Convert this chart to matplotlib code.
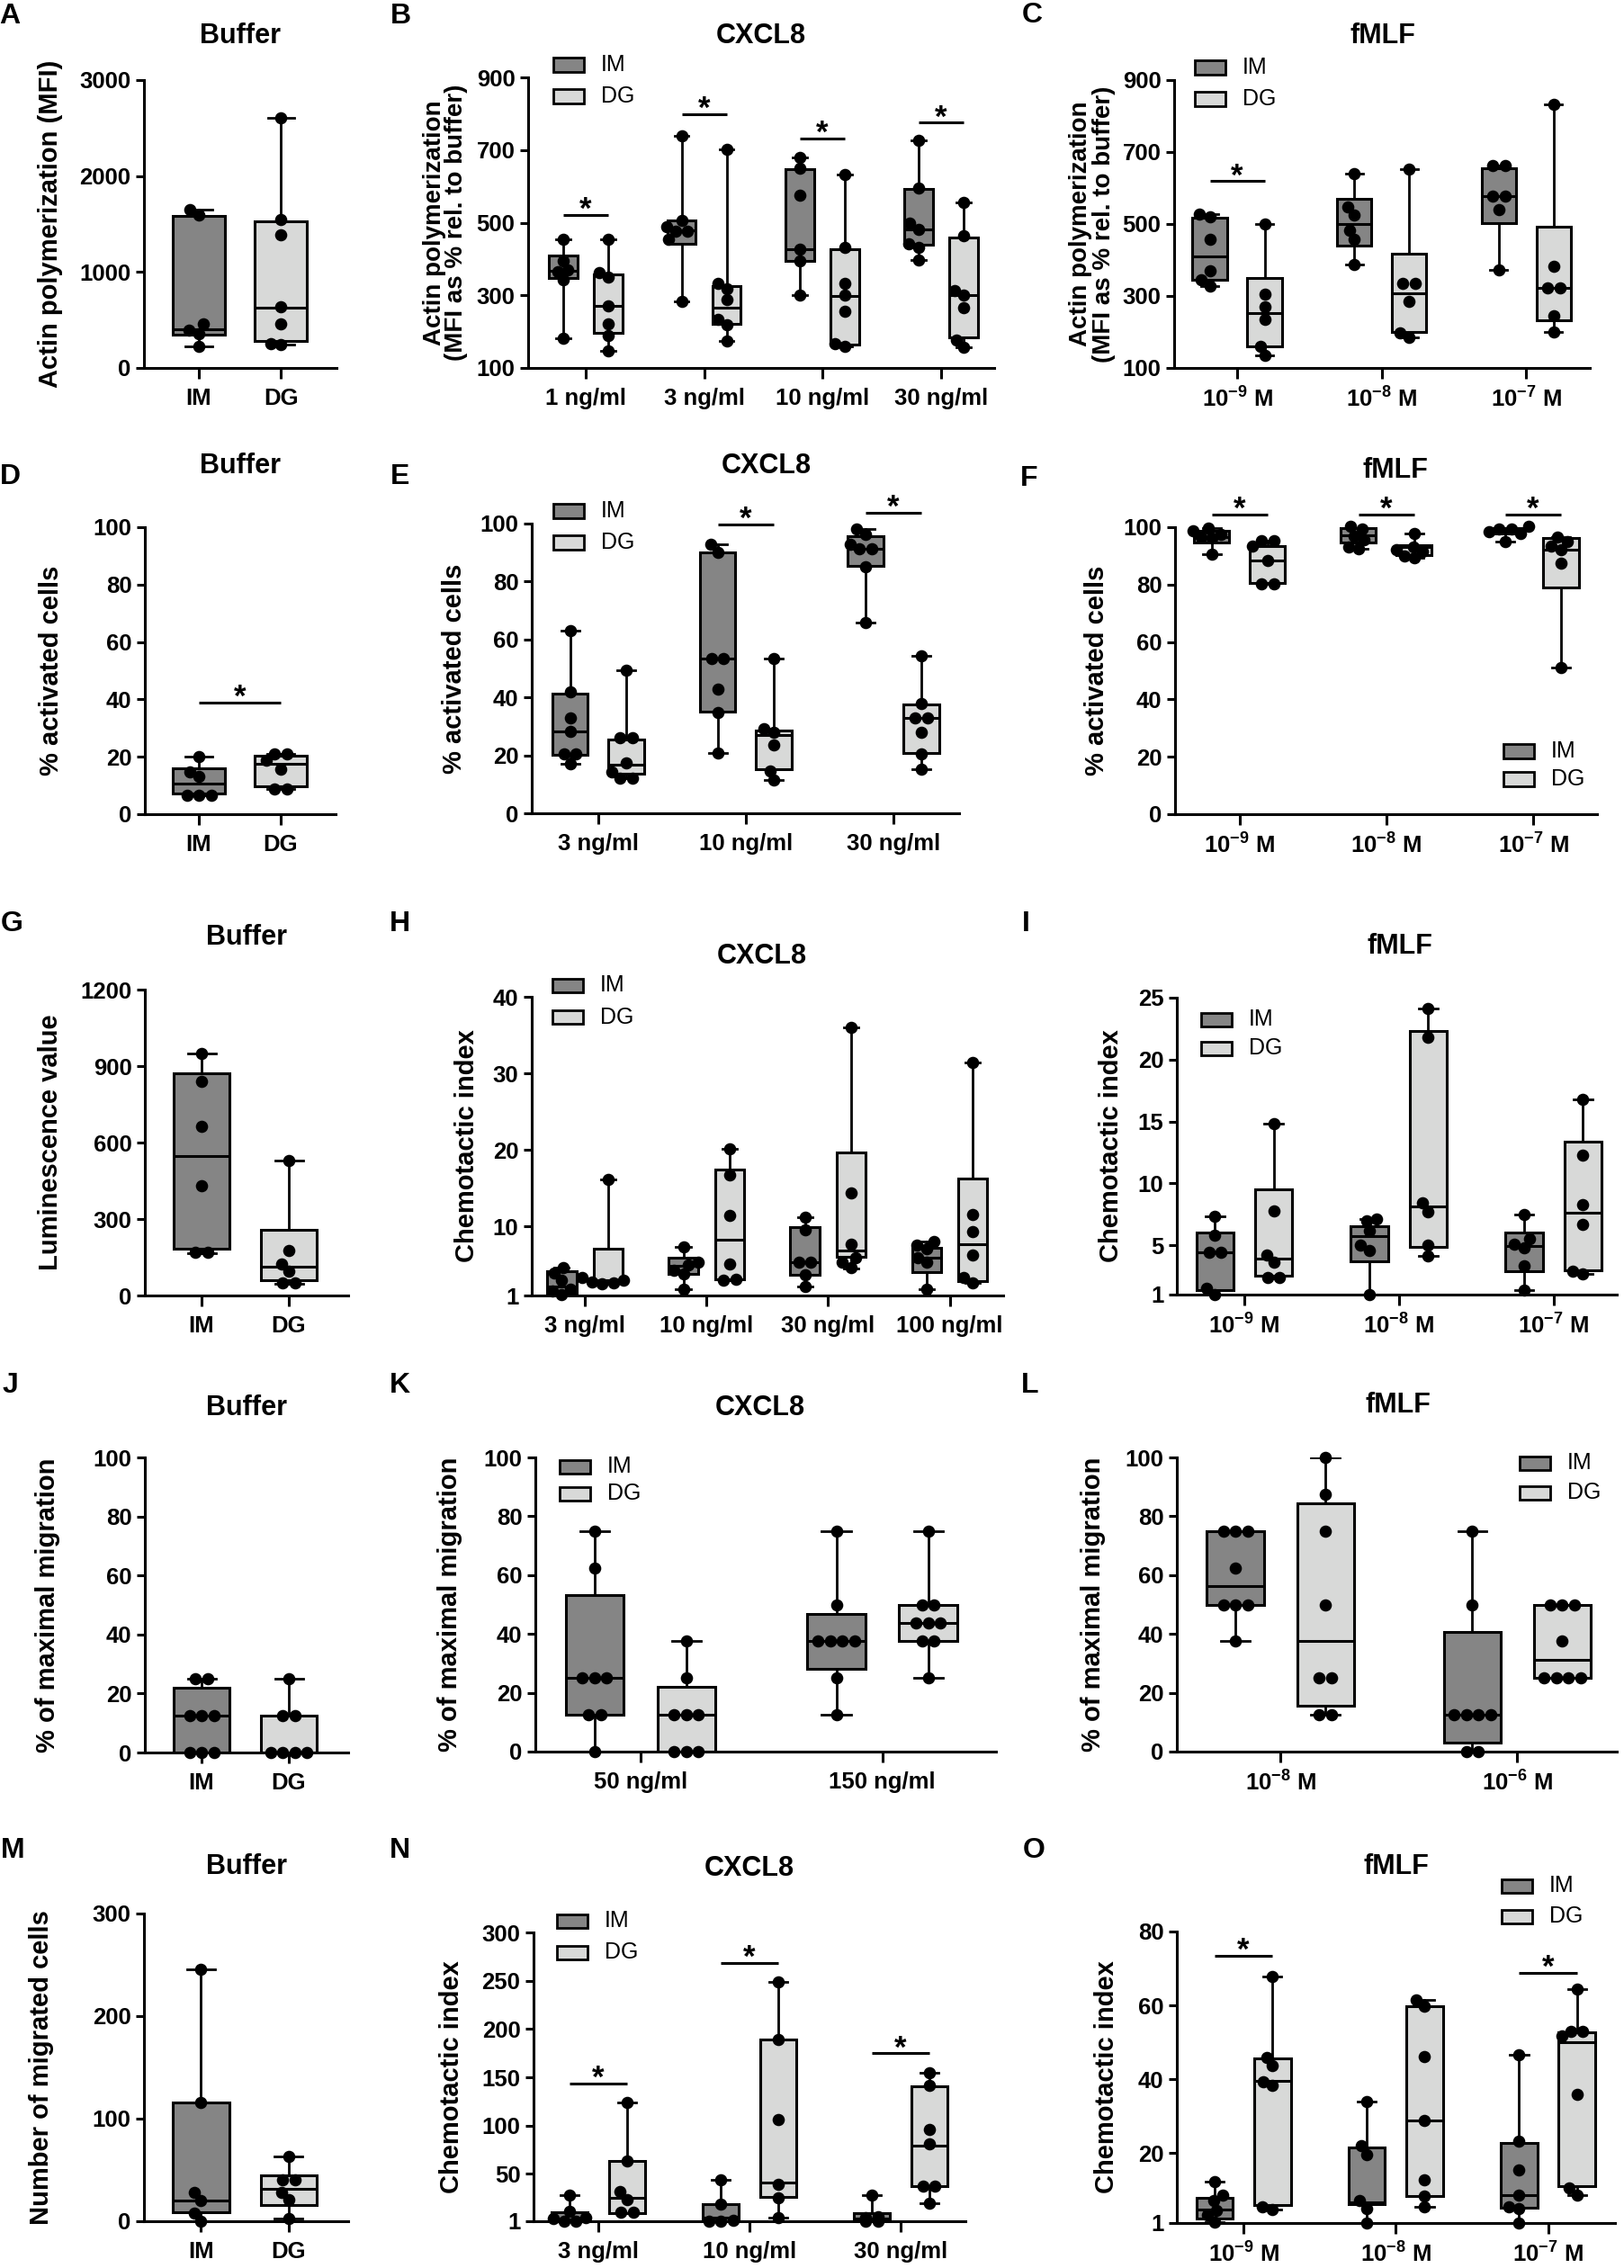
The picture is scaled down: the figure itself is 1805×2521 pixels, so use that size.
#!/usr/bin/env python3
"""Box plots (min-max whiskers) of IM vs DG neutrophil responses, panels A-O."""

import matplotlib

matplotlib.use("Agg")
import matplotlib.pyplot as plt
from matplotlib.patches import Rectangle
import numpy as np

plt.rcParams.update({
    "font.family": ["Liberation Sans", "DejaVu Sans"],
    "font.weight": "bold",
    "mathtext.fontset": "custom",
    "mathtext.rm": "Liberation Sans",
    "mathtext.bf": "Liberation Sans:bold",
    "mathtext.it": "Liberation Sans:italic",
    "axes.linewidth": 2.2,
})

W, H = 1805, 2521
IM_COLOR = "#858585"
DG_COLOR = "#d8d9d8"

# ---------------------------------------------------------------- data
# box arrays: [min, q1, median, q3, max]
SINGLE_CATS = ["IM", "DG"]
CXCL8_CATS_3 = ["3 ng/ml", "10 ng/ml", "30 ng/ml"]
FMLF_CATS = [r"$\mathbf{10^{-9}}$ M", r"$\mathbf{10^{-8}}$ M", r"$\mathbf{10^{-7}}$ M"]

# A - actin polymerization, buffer
A_IM_PTS = [1650, 1594, 456, 390, 360, 228]
A_IM_BOX = [228, 347, 400, 1588, 1650]
A_DG_PTS = [2609, 1547, 1384, 640, 462, 255, 240]
A_DG_BOX = [240, 281, 628, 1531, 2609]

# B - actin polymerization, CXCL8
B_CATS = ["1 ng/ml", "3 ng/ml", "10 ng/ml", "30 ng/ml"]
B_IM_PTS = [[453, 395, 370, 366, 342, 182], [740, 505, 490, 476, 476, 455, 284],
            [680, 650, 575, 428, 395, 300], [727, 595, 498, 482, 443, 432, 397]]
B_IM_BOX = [[182, 347, 368, 410, 453], [284, 443, 478, 507, 740],
            [300, 395, 428, 647, 680], [397, 440, 482, 592, 727]]
B_DG_PTS = [[453, 362, 350, 272, 222, 189, 148], [703, 332, 317, 288, 234, 218, 174],
            [632, 432, 333, 300, 255, 168, 160], [556, 465, 313, 300, 267, 177, 156]]
B_DG_BOX = [[148, 197, 272, 358, 453], [174, 222, 267, 325, 703],
            [160, 164, 298, 428, 632], [156, 185, 300, 460, 556]]
B_SIG = [521, 798, 732, 775]

# C - actin polymerization, fMLF
C_IM_PTS = [[527, 519, 457, 369, 344, 328], [640, 548, 525, 483, 457, 388],
            [663, 663, 578, 578, 540, 373]]
C_IM_BOX = [[328, 344, 411, 517, 527], [388, 440, 500, 569, 640], [373, 502, 578, 655, 663]]
C_DG_PTS = [[500, 305, 270, 236, 160, 134], [653, 336, 336, 286, 198, 186],
            [833, 383, 323, 323, 245, 200]]
C_DG_BOX = [[134, 159, 253, 350, 500], [186, 200, 308, 417, 653], [200, 233, 323, 492, 833]]
C_SIG = [619, None, None]

# D - activated cells, buffer
D_IM_PTS = [20.2, 14.6, 13.1, 6.6, 6.6, 6.6]
D_IM_BOX = [6.6, 7.3, 10.8, 15.9, 20.2]
D_DG_PTS = [20.9, 20.9, 18.8, 15.7, 8.9, 8.9]
D_DG_BOX = [8.9, 9.7, 17.5, 20.4, 20.9]
D_SIG = [39.0]

# E - activated cells, CXCL8
E_IM_PTS = [[63.0, 41.8, 32.8, 28.4, 20.4, 20.4, 17.0], [92.8, 90.2, 53.5, 53.5, 42.8, 34.8, 20.7],
            [98.2, 96.4, 93.0, 91.2, 91.2, 85.0, 65.7]]
E_IM_BOX = [[17.0, 20.1, 28.4, 41.3, 63.0], [20.7, 35.2, 53.5, 90.2, 92.8],
            [65.7, 85.5, 91.2, 95.7, 98.2]]
E_DG_PTS = [[49.3, 26.1, 26.1, 17.3, 14.2, 12.1, 12.1], [53.5, 29.2, 28.1, 23.5, 14.7, 11.4],
            [54.5, 38.0, 32.8, 32.8, 28.1, 20.4, 15.2]]
E_DG_BOX = [[12.1, 13.7, 16.8, 25.5, 49.3], [11.4, 15.2, 27.0, 28.5, 53.5],
            [15.2, 20.7, 32.8, 37.6, 54.5]]
E_SIG = [None, 99.7, 103.8]

# F - activated cells, fMLF
F_IM_PTS = [[99.6, 98.7, 97.6, 96.7, 96.2, 90.6], [100.3, 99.3, 96.9, 95.6, 93.0, 92.5],
            [100.3, 99.5, 99.3, 98.5, 97.9, 95.1]]
F_IM_BOX = [[90.6, 94.6, 96.7, 98.7, 99.6], [92.5, 94.6, 97.2, 99.6, 100.3],
            [95.1, 97.7, 98.7, 99.6, 100.3]]
F_DG_PTS = [[95.2, 95.2, 93.5, 88.5, 80.3, 80.3], [97.9, 93.0, 92.3, 91.4, 89.9, 89.3],
            [96.4, 95.1, 93.5, 92.2, 87.6, 51.2]]
F_DG_BOX = [[80.1, 80.5, 88.5, 93.5, 95.4], [89.3, 90.2, 93.0, 93.7, 97.9],
            [51.2, 78.9, 92.2, 96.1, 96.4]]
F_SIG = [104.5, 104.5, 104.5]

# G - luminescence, buffer
G_IM_PTS = [951, 841, 665, 429, 171, 171]
G_IM_BOX = [167, 182, 547, 873, 951]
G_DG_PTS = [529, 176, 124, 94, 50, 50]
G_DG_BOX = [47, 59, 112, 259, 529]

# H - chemotactic index, CXCL8
H_CATS = ["3 ng/ml", "10 ng/ml", "30 ng/ml", "100 ng/ml"]
H_IM_PTS = [[4.6, 3.9, 3.0, 1.8, 1.6, 1.1], [7.3, 5.3, 5.0, 4.3, 3.8, 1.8],
            [11.2, 9.6, 5.4, 5.3, 3.7, 2.2], [8.0, 7.6, 7.1, 5.9, 5.3, 1.8]]
H_IM_BOX = [[1.1, 1.3, 2.2, 4.2, 4.6], [1.8, 3.8, 4.9, 5.9, 7.3],
            [2.2, 3.7, 5.4, 9.9, 11.2], [1.8, 4.1, 5.9, 7.2, 8.0]]
H_DG_PTS = [[16.1, 3.3, 3.0, 2.8, 2.6, 2.5], [20.2, 16.7, 11.4, 5.1, 3.1, 3.0],
            [36.0, 14.4, 7.7, 5.9, 5.3, 4.7], [31.4, 11.6, 9.3, 6.3, 3.4, 2.7]]
H_DG_BOX = [[2.5, 2.9, 3.0, 7.1, 16.1], [3.0, 3.1, 8.3, 17.5, 20.2],
            [4.5, 6.0, 6.9, 19.7, 36.0], [2.6, 2.9, 7.7, 16.3, 31.4]]

# I - chemotactic index, fMLF
I_IM_PTS = [[7.3, 5.8, 4.4, 4.4, 1.5, 1.0], [7.1, 7.0, 6.2, 5.0, 4.6, 1.0],
            [7.5, 5.5, 5.1, 4.8, 3.3, 1.4]]
I_IM_BOX = [[1.0, 1.4, 4.4, 6.0, 7.3], [1.0, 3.7, 5.7, 6.5, 7.1], [1.4, 2.9, 4.9, 6.0, 7.5]]
I_DG_PTS = [[14.8, 7.8, 4.2, 3.6, 2.4, 2.4], [24.1, 21.8, 8.4, 7.7, 5.0, 4.1],
            [16.8, 12.3, 8.3, 6.7, 2.9, 2.7]]
I_DG_BOX = [[2.3, 2.5, 3.9, 9.5, 14.8], [4.1, 4.85, 8.1, 22.3, 24.1], [2.7, 3.0, 7.6, 13.4, 16.8]]

# J - maximal migration, buffer
J_IM_PTS = [25, 25, 12.5, 12.5, 12.5, 0, 0, 0]
J_IM_BOX = [0, 0, 12.5, 21.9, 25]
J_DG_PTS = [25, 12.5, 12.5, 0, 0, 0, 0]
J_DG_BOX = [0, 0, 0, 12.5, 25]

# K - maximal migration, CXCL8
K_CATS = ["50 ng/ml", "150 ng/ml"]
K_IM_PTS = [[75, 62.5, 25, 25, 25, 12.5, 12.5, 0], [75, 50, 37.5, 37.5, 37.5, 37.5, 25, 12.5]]
K_IM_BOX = [[0, 12.5, 25, 53.1, 75], [12.5, 28.1, 37.5, 46.9, 75]]
K_DG_PTS = [[37.5, 25, 12.5, 12.5, 12.5, 0, 0, 0], [75, 50, 50, 43.75, 43.75, 43.75, 37.5, 37.5, 25]]
K_DG_BOX = [[0, 0, 12.5, 21.9, 37.5], [25, 37.5, 43.75, 50, 75]]

# L - maximal migration, fMLF
L_CATS = [r"$\mathbf{10^{-8}}$ M", r"$\mathbf{10^{-6}}$ M"]
L_IM_PTS = [[75, 75, 75, 62.5, 50, 50, 50, 37.5], [75, 50, 12.5, 12.5, 12.5, 12.5, 0, 0]]
L_IM_BOX = [[37.5, 50, 56.25, 75, 75], [0, 3.1, 12.5, 40.6, 75]]
L_DG_PTS = [[100, 87.5, 75, 50, 25, 25, 12.5, 12.5], [50, 50, 50, 37.5, 25, 25, 25, 25]]
L_DG_BOX = [[12.5, 15.6, 37.5, 84.4, 100], [25, 25, 31.25, 50, 50]]

# M - migrated cells, buffer
M_IM_PTS = [246, 116, 28, 20, 8, 0]
M_IM_BOX = [0, 8.8, 20.5, 116, 246]
M_DG_PTS = [63, 40, 40, 28, 21, 3]
M_DG_BOX = [3, 15.5, 31.6, 44.7, 63]

# N - chemotactic index, CXCL8
N_IM_PTS = [[28.3, 11.2, 5.0, 3.5, 1, 1], [43.8, 18.3, 1.9, 1, 1], [28.3, 5.6, 5.0, 1, 1]]
N_IM_BOX = [[1, 1.9, 2.9, 10.3, 28.3], [1, 1, 4.9, 18.3, 43.8], [1, 1, 3.5, 9.7, 28.3]]
N_DG_PTS = [[124, 63.7, 31.4, 23.7, 10.6, 9.9], [249, 189, 106, 39.1, 25.2, 5.0],
            [155, 141.8, 96.2, 81.2, 37.0, 37.0, 19.6]]
N_DG_BOX = [[9.1, 9.1, 25.2, 63.1, 124], [5.0, 25.8, 40.6, 189, 249], [19.6, 37.0, 79.5, 141, 155]]
N_SIG = [143.8, 268.3, 174.9]

# O - chemotactic index, fMLF
O_IM_PTS = [[12.3, 8.5, 7.0, 4.3, 3.2, 1.3], [34.0, 22.0, 19.6, 7.0, 5.0, 1.0],
            [46.7, 23.1, 15.4, 8.6, 5.3, 4.9, 1.0]]
O_IM_BOX = [[1.3, 2.3, 4.6, 7.8, 12.3], [1.0, 6.2, 6.6, 21.6, 34.0], [1.0, 5.2, 8.6, 22.8, 46.7]]
O_DG_PTS = [[67.7, 45.9, 43.6, 39.3, 38.3, 5.5, 4.6], [61.5, 59.8, 46.2, 28.8, 12.8, 8.2, 5.3],
            [64.5, 52.9, 52.9, 51.7, 35.9, 10.4, 8.5]]
O_DG_BOX = [[4.6, 5.8, 39.5, 45.6, 67.7], [5.3, 8.2, 28.8, 59.8, 61.5], [8.5, 10.9, 49.9, 52.7, 64.5]]
O_SIG = [73.5, None, 68.9]

ACTIN_LAB = "Actin polymerization\n(MFI as % rel. to buffer)"
CI_LAB = "Chemotactic index"

# ---------------------------------------------------------------- layout (pixels)
# ax = (left, top, right, bottom); title/letter = (x, y) centres; legend = (x, y_IM, y_DG)
LAYOUT = {
    "A": dict(ax=(160, 89, 374, 409), xlim=(-0.67, 1.68), title=(267, 40), letter=(11, 18), ylab=56),
    "B": dict(ax=(587, 86, 1105, 409), xlim=(-0.486, 3.45), title=(846, 40), letter=(445, 18), ylab=495,
              legend=(615, 72, 107)),
    "C": dict(ax=(1305, 89, 1767, 409), xlim=(-0.436, 2.44), title=(1537, 40), letter=(1147, 17), ylab=1214,
              legend=(1328, 75, 110)),
    "D": dict(ax=(161, 586, 373, 905), xlim=(-0.66, 1.67), title=(267, 518), letter=(11, 530), ylab=57),
    "E": dict(ax=(591, 582, 1066, 904), xlim=(-0.45, 2.445), title=(852, 518), letter=(445, 530), ylab=505,
              legend=(615, 568, 603)),
    "F": dict(ax=(1306, 586, 1775, 905), xlim=(-0.44, 2.435), title=(1551, 523), letter=(1144, 532), ylab=1219,
              legend=(1671, 835, 866)),
    "G": dict(ax=(161, 1100, 387, 1440), xlim=(-0.65, 1.68), title=(274, 1042), letter=(13, 1027), ylab=56),
    "H": dict(ax=(591, 1108, 1115, 1440), xlim=(-0.437, 3.44), title=(847, 1063), letter=(444, 1027), ylab=519,
              legend=(614, 1095, 1131)),
    "I": dict(ax=(1308, 1109, 1797, 1439), xlim=(-0.436, 2.41), title=(1556, 1052), letter=(1140, 1027), ylab=1235,
              legend=(1335, 1133, 1165)),
    "J": dict(ax=(161, 1620, 387, 1948), xlim=(-0.65, 1.68), title=(274, 1565), letter=(11, 1540), ylab=53),
    "K": dict(ax=(595, 1620, 1107, 1947), xlim=(-0.435, 1.47), title=(845, 1565), letter=(444, 1540), ylab=500,
              legend=(622, 1630, 1660)),
    "L": dict(ax=(1308, 1620, 1797, 1947), xlim=(-0.437, 1.42), title=(1554, 1562), letter=(1145, 1540), ylab=1215,
              legend=(1689, 1626, 1659)),
    "M": dict(ax=(160, 2127, 387, 2469), xlim=(-0.65, 1.68), title=(274, 2075), letter=(14, 2057), ylab=46),
    "N": dict(ax=(593, 2148, 1073, 2469), xlim=(-0.43, 2.43), title=(833, 2077), letter=(444, 2057), ylab=502,
              legend=(619, 2135, 2170)),
    "O": dict(ax=(1308, 2147, 1795, 2471), xlim=(-0.438, 2.44), title=(1552, 2075), letter=(1149, 2057), ylab=1230,
              legend=(1669, 2096, 2130)),
}

SINGLE_W = 0.64
GROUP_OFF = 0.19
GROUP_W = 0.24
MARKER_PX = 13.5
TICK_FS = 18.5


def _swarm(vals, y_px_per_unit, x_px_per_unit):
    """Beeswarm-like x offsets: tied values sit in a centred row, others nudge aside."""
    vals = np.asarray(vals, float)
    ys = vals * y_px_per_unit
    order = np.argsort(vals)
    d = MARKER_PX
    dc = MARKER_PX * 0.85  # allow a little overlap, as in the original
    xs = np.zeros(len(vals))

    rows, cur = [], [order[0]]
    for k in range(1, len(order)):
        if ys[order[k]] - ys[order[k - 1]] < 0.1 * d:
            cur.append(order[k])
        else:
            rows.append(cur)
            cur = [order[k]]
    rows.append(cur)

    placed = []
    singles = []
    for r in rows:
        if len(r) > 1:
            for j, idx in enumerate(r):
                xs[idx] = (j - (len(r) - 1) / 2) * d
                placed.append((xs[idx], ys[idx]))
        else:
            singles.append(r[0])

    for idx in singles:
        y = ys[idx]
        near = [(px, py) for px, py in placed if abs(py - y) < dc]
        cands = [0.0]
        for px, py in near:
            dx = np.sqrt(dc * dc - (py - y) ** 2)
            cands += [px - dx, px + dx]
        cands.sort(key=abs)
        best = cands[-1]
        for c in cands:
            if all((c - px) ** 2 + (y - py) ** 2 >= dc * dc - 1e-6 for px, py in near):
                best = c
                break
        xs[idx] = best
        placed.append((best, y))
    return xs / x_px_per_unit


def _boxes(ax, positions, boxes, pts, color, width, ypu, xpu):
    stats = [dict(whislo=b[0], q1=b[1], med=b[2], q3=b[3], whishi=b[4]) for b in boxes]
    ax.bxp(stats, positions=positions, widths=width, patch_artist=True, showfliers=False,
           manage_ticks=False, capwidths=width * 0.5,
           boxprops=dict(facecolor=color, edgecolor="black", linewidth=2.2),
           medianprops=dict(color="black", linewidth=2.2),
           whiskerprops=dict(color="black", linewidth=2.0),
           capprops=dict(color="black", linewidth=2.0))
    for p, vals in zip(positions, pts):
        offs = _swarm(vals, ypu, xpu)
        ax.scatter(p + offs, vals, s=96, color="black", zorder=5, clip_on=False, linewidths=0)


def _px(x, y):
    return x / W, 1 - y / H


def _legend(fig, x, y_im, y_dg):
    for yc, col, lab in ((y_im, IM_COLOR, "IM"), (y_dg, DG_COLOR, "DG")):
        x0, y0 = _px(x, yc + 7.5)
        fig.add_artist(Rectangle((x0, y0), 34 / W, 15 / H, transform=fig.transFigure,
                                 facecolor=col, edgecolor="black", linewidth=2.0))
        tx, ty = _px(x + 53, yc)
        fig.text(tx, ty, lab, ha="left", va="center", fontsize=18, fontweight="normal")


def draw_panel(fig, key, title, ylabel, ylim, yticks, cats, im_pts, im_box, dg_pts, dg_box,
               sig=None, single=False):
    g = LAYOUT[key]
    left, top, right, bottom = g["ax"]
    ax = fig.add_axes([left / W, 1 - bottom / H, (right - left) / W, (bottom - top) / H])
    ax.set_xlim(*g["xlim"])
    ax.set_ylim(*ylim)
    xpu = (right - left) / (g["xlim"][1] - g["xlim"][0])
    ypu = (bottom - top) / (ylim[1] - ylim[0])

    if single:
        pos_im, pos_dg = [0.0], [1.0]
        im_pts, im_box, dg_pts, dg_box = [im_pts], [im_box], [dg_pts], [dg_box]
        width = SINGLE_W
        ticks = [0, 1]
    else:
        n = len(cats)
        pos_im = [i - GROUP_OFF for i in range(n)]
        pos_dg = [i + GROUP_OFF for i in range(n)]
        width = GROUP_W
        ticks = list(range(n))

    _boxes(ax, pos_im, im_box, im_pts, IM_COLOR, width, ypu, xpu)
    _boxes(ax, pos_dg, dg_box, dg_pts, DG_COLOR, width, ypu, xpu)

    if sig is not None:
        for a, b, y in zip(pos_im, pos_dg, sig):
            if y is None:
                continue
            ax.plot([a, b], [y, y], color="black", lw=2.2, clip_on=False, solid_capstyle="butt")
            ax.annotate("*", xy=((a + b) / 2, y), xytext=(0, -3), textcoords="offset points",
                        ha="center", va="baseline", fontsize=25, fontweight="bold",
                        annotation_clip=False)

    ax.set_xticks(ticks)
    ax.set_xticklabels(cats)
    ax.set_yticks(yticks)
    for s in ("top", "right"):
        ax.spines[s].set_visible(False)
    for s in ("left", "bottom"):
        ax.spines[s].set_linewidth(2.2)
    ax.tick_params(axis="x", length=8.5, width=2.2, pad=7, labelsize=TICK_FS)
    ax.tick_params(axis="y", length=6.5, width=2.2, pad=4, labelsize=TICK_FS)
    for t in ax.get_xticklabels() + ax.get_yticklabels():
        t.set_fontweight("bold")

    tx, ty = _px(*g["title"])
    fig.text(tx, ty, title, ha="center", va="center", fontsize=22, fontweight="bold")
    lx, ly = _px(*g["letter"])
    fig.text(lx, ly, key, ha="center", va="center", fontsize=23, fontweight="bold")
    yx, yy = _px(g["ylab"], (top + bottom) / 2)
    fig.text(yx, yy, ylabel, rotation=90, ha="center", va="center", linespacing=0.95,
             fontsize=20 if "\n" in ylabel else 21, fontweight="bold")
    if "legend" in g:
        _legend(fig, *g["legend"])
    return ax


def main():
    fig = plt.figure(figsize=(W / 100, H / 100), dpi=100)

    draw_panel(fig, "A", "Buffer", "Actin polymerization (MFI)", (0, 3000), [0, 1000, 2000, 3000],
               SINGLE_CATS, A_IM_PTS, A_IM_BOX, A_DG_PTS, A_DG_BOX, single=True)
    draw_panel(fig, "B", "CXCL8", ACTIN_LAB, (100, 900), [100, 300, 500, 700, 900],
               B_CATS, B_IM_PTS, B_IM_BOX, B_DG_PTS, B_DG_BOX, sig=B_SIG)
    draw_panel(fig, "C", "fMLF", ACTIN_LAB, (100, 900), [100, 300, 500, 700, 900],
               FMLF_CATS, C_IM_PTS, C_IM_BOX, C_DG_PTS, C_DG_BOX, sig=C_SIG)

    draw_panel(fig, "D", "Buffer", "% activated cells", (0, 100), [0, 20, 40, 60, 80, 100],
               SINGLE_CATS, D_IM_PTS, D_IM_BOX, D_DG_PTS, D_DG_BOX, sig=D_SIG, single=True)
    draw_panel(fig, "E", "CXCL8", "% activated cells", (0, 100), [0, 20, 40, 60, 80, 100],
               CXCL8_CATS_3, E_IM_PTS, E_IM_BOX, E_DG_PTS, E_DG_BOX, sig=E_SIG)
    draw_panel(fig, "F", "fMLF", "% activated cells", (0, 100), [0, 20, 40, 60, 80, 100],
               FMLF_CATS, F_IM_PTS, F_IM_BOX, F_DG_PTS, F_DG_BOX, sig=F_SIG)

    draw_panel(fig, "G", "Buffer", "Luminescence value", (0, 1200), [0, 300, 600, 900, 1200],
               SINGLE_CATS, G_IM_PTS, G_IM_BOX, G_DG_PTS, G_DG_BOX, single=True)
    draw_panel(fig, "H", "CXCL8", CI_LAB, (1, 40), [1, 10, 20, 30, 40],
               H_CATS, H_IM_PTS, H_IM_BOX, H_DG_PTS, H_DG_BOX)
    draw_panel(fig, "I", "fMLF", CI_LAB, (1, 25), [1, 5, 10, 15, 20, 25],
               FMLF_CATS, I_IM_PTS, I_IM_BOX, I_DG_PTS, I_DG_BOX)

    draw_panel(fig, "J", "Buffer", "% of maximal migration", (0, 100), [0, 20, 40, 60, 80, 100],
               SINGLE_CATS, J_IM_PTS, J_IM_BOX, J_DG_PTS, J_DG_BOX, single=True)
    draw_panel(fig, "K", "CXCL8", "% of maximal migration", (0, 100), [0, 20, 40, 60, 80, 100],
               K_CATS, K_IM_PTS, K_IM_BOX, K_DG_PTS, K_DG_BOX)
    draw_panel(fig, "L", "fMLF", "% of maximal migration", (0, 100), [0, 20, 40, 60, 80, 100],
               L_CATS, L_IM_PTS, L_IM_BOX, L_DG_PTS, L_DG_BOX)

    draw_panel(fig, "M", "Buffer", "Number of migrated cells", (0, 300), [0, 100, 200, 300],
               SINGLE_CATS, M_IM_PTS, M_IM_BOX, M_DG_PTS, M_DG_BOX, single=True)
    draw_panel(fig, "N", "CXCL8", CI_LAB, (1, 300), [1, 50, 100, 150, 200, 250, 300],
               CXCL8_CATS_3, N_IM_PTS, N_IM_BOX, N_DG_PTS, N_DG_BOX, sig=N_SIG)
    draw_panel(fig, "O", "fMLF", CI_LAB, (1, 80), [1, 20, 40, 60, 80],
               FMLF_CATS, O_IM_PTS, O_IM_BOX, O_DG_PTS, O_DG_BOX, sig=O_SIG)

    fig.savefig("out.png", dpi=100, facecolor="white")
    plt.close(fig)


if __name__ == "__main__":
    main()
